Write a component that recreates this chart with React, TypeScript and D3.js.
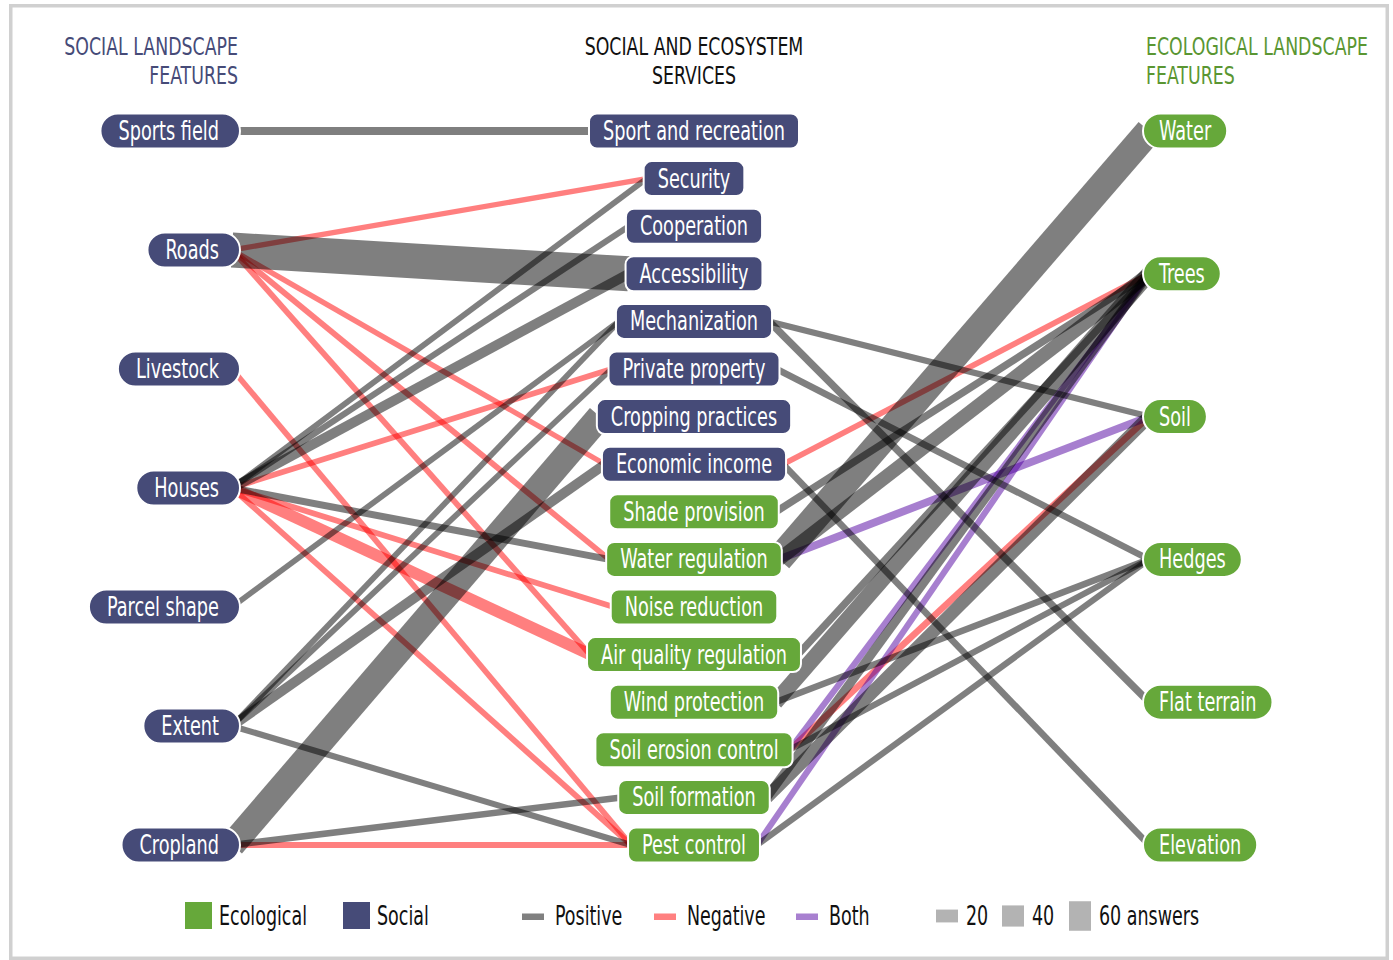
import { useEffect, useRef } from "react";
import * as d3 from "d3";

const socialFeatures = ["Sports field", "Roads", "Livestock", "Houses", "Parcel shape", "Extent", "Cropland"];

const services = [
  "Sport and recreation", "Security", "Cooperation", "Accessibility", "Mechanization",
  "Private property", "Cropping practices", "Economic income", "Shade provision",
  "Water regulation", "Noise reduction", "Air quality regulation", "Wind protection",
  "Soil erosion control", "Soil formation", "Pest control",
];
const socialServices = services.slice(0, 8);

const ecoFeatures = ["Water", "Trees", "Soil", "Hedges", "Flat terrain", "Elevation"];

// [social feature, service, answers, effect]
const socialLinks: [string, string, number, string][] = [
  ["Sports field", "Sport and recreation", 8, "Positive"],
  ["Roads", "Security", 2, "Negative"],
  ["Roads", "Accessibility", 73, "Positive"],
  ["Roads", "Economic income", 2, "Negative"],
  ["Roads", "Water regulation", 3, "Negative"],
  ["Roads", "Air quality regulation", 3, "Negative"],
  ["Livestock", "Pest control", 3, "Negative"],
  ["Houses", "Security", 3, "Positive"],
  ["Houses", "Cooperation", 4, "Positive"],
  ["Houses", "Accessibility", 13, "Positive"],
  ["Houses", "Private property", 3, "Negative"],
  ["Houses", "Water regulation", 6, "Positive"],
  ["Houses", "Noise reduction", 3, "Negative"],
  ["Houses", "Air quality regulation", 17, "Negative"],
  ["Houses", "Pest control", 3, "Negative"],
  ["Parcel shape", "Mechanization", 3, "Positive"],
  ["Extent", "Mechanization", 3, "Positive"],
  ["Extent", "Private property", 3, "Positive"],
  ["Extent", "Economic income", 13, "Positive"],
  ["Extent", "Pest control", 4, "Positive"],
  ["Cropland", "Cropping practices", 52, "Positive"],
  ["Cropland", "Soil formation", 5, "Positive"],
  ["Cropland", "Pest control", 4, "Negative"],
];

// [service, ecological feature, answers, effect]
const ecoLinks: [string, string, number, string][] = [
  ["Mechanization", "Soil", 4, "Positive"],
  ["Mechanization", "Flat terrain", 7, "Positive"],
  ["Private property", "Hedges", 5, "Positive"],
  ["Economic income", "Trees", 3, "Negative"],
  ["Economic income", "Elevation", 5, "Positive"],
  ["Shade provision", "Trees", 7, "Positive"],
  ["Water regulation", "Water", 55, "Positive"],
  ["Water regulation", "Trees", 22, "Positive"],
  ["Water regulation", "Soil", 8, "Both"],
  ["Air quality regulation", "Trees", 7, "Positive"],
  ["Wind protection", "Trees", 27, "Positive"],
  ["Wind protection", "Hedges", 5, "Positive"],
  ["Soil erosion control", "Trees", 4, "Both"],
  ["Soil erosion control", "Soil", 5, "Negative"],
  ["Soil erosion control", "Hedges", 4, "Positive"],
  ["Soil formation", "Trees", 11, "Positive"],
  ["Soil formation", "Soil", 20, "Positive"],
  ["Pest control", "Trees", 4, "Both"],
  ["Pest control", "Hedges", 4, "Positive"],
];

const kindLegend = ["Ecological", "Social"];
const effectLegend = ["Positive", "Negative", "Both"];
const sizeLegend = [20, 40, 60];

const NAVY = "#464b78";
const GREEN = "#66a83a";
const FONT = "'DejaVu Sans Condensed', 'Liberation Sans Narrow', 'Liberation Sans', sans-serif";
const effectInk: Record<string, string> = { Positive: "#000000", Negative: "#ff0000", Both: "#5000a0" };
const effectSwatch: Record<string, string> = { Positive: "#808080", Negative: "#ff8080", Both: "#a880d0" };

export default function App() {
  const svgRef = useRef<SVGSVGElement>(null);

  useEffect(() => {
    if (!svgRef.current) return;
    const svg = d3.select(svgRef.current);
    svg.selectAll("*").remove();

    const xLeft = 240; // right edge of the social feature pills
    const xMid = 694; // centre of the service pills
    const xRight = 1143; // left edge of the ecological feature pills
    const pillH = 35;

    const yLeft = d3.scalePoint<string>().domain(socialFeatures).range([131, 845]);
    const yMid = d3.scalePoint<string>().domain(services).range([131, 845]);
    const yRight = d3.scalePoint<string>().domain(ecoFeatures).range([131, 845]);
    const lineW = d3.scaleLinear().domain([0, 60]).range([4.5, 29.5]);

    // frame
    svg.append("rect")
      .attr("x", 10.75).attr("y", 5.75)
      .attr("width", 1376.5).attr("height", 952.5)
      .attr("fill", "none").attr("stroke", "#d0d0d0").attr("stroke-width", 3.5);

    // condensed text: the font is squeezed horizontally to mimic a condensed face
    const addText = (g: any, label: string, x: number, y: number, size: number, squeeze: number, anchor: string, color: string) => {
      const t = g.append("text")
        .attr("transform", `translate(${x},${y}) scale(${squeeze},1)`)
        .attr("text-anchor", anchor)
        .attr("font-family", FONT)
        .attr("font-size", size)
        .attr("fill", color)
        .text(label);
      return t.node().getComputedTextLength() * squeeze;
    };

    // column titles, two lines each
    const TITLE = 24.5;
    const TSQ = 0.788;
    const titleLines = (lines: string[], x: number, anchor: string, color: string) => {
      lines.forEach((l, i) => addText(svg, l, x, 55 + i * 28.5, TITLE, TSQ, anchor, color));
    };
    titleLines(["SOCIAL LANDSCAPE", "FEATURES"], 238, "end", NAVY);
    titleLines(["SOCIAL AND ECOSYSTEM", "SERVICES"], xMid, "middle", "#111");
    titleLines(["ECOLOGICAL LANDSCAPE", "FEATURES"], 1146, "start", "#5a9632");

    const linkG = svg.append("g");
    const nodeG = svg.append("g");

    const LABEL = 26;
    const SQ = 0.757;

    // left pills
    socialFeatures.forEach((name) => {
      const cy = yLeft(name)!;
      const g = nodeG.append("g");
      const r = g.append("rect");
      const tw = addText(g, name, xLeft - 21, cy + 9, LABEL, SQ, "end", "#fff");
      const w = tw + 39;
      r.attr("x", xLeft - w).attr("y", cy - pillH / 2).attr("width", w).attr("height", pillH)
        .attr("rx", pillH / 2).attr("fill", NAVY).attr("stroke", "#fff").attr("stroke-width", 2);
    });

    // middle pills
    const midEdges: Record<string, [number, number]> = {};
    services.forEach((name) => {
      const cy = yMid(name)!;
      const g = nodeG.append("g");
      const r = g.append("rect");
      const tw = addText(g, name, xMid, cy + 9, LABEL, SQ, "middle", "#fff");
      const w = tw + 28;
      midEdges[name] = [xMid - w / 2, xMid + w / 2];
      r.attr("x", xMid - w / 2).attr("y", cy - pillH / 2).attr("width", w).attr("height", pillH)
        .attr("rx", 8).attr("fill", socialServices.includes(name) ? NAVY : GREEN)
        .attr("stroke", "#fff").attr("stroke-width", 2);
    });

    // right pills
    ecoFeatures.forEach((name) => {
      const cy = yRight(name)!;
      const g = nodeG.append("g");
      const r = g.append("rect");
      const tw = addText(g, name, xRight + 16, cy + 9, LABEL, SQ, "start", "#fff");
      const w = tw + 32;
      r.attr("x", xRight).attr("y", cy - pillH / 2).attr("width", w).attr("height", pillH)
        .attr("rx", pillH / 2).attr("fill", GREEN).attr("stroke", "#fff").attr("stroke-width", 2);
    });

    // links, negative first so grey and purple overlaps darken like the original
    const order = ["Negative", "Both", "Positive"];
    const allLinks = [
      ...socialLinks.map(([s, t, n, e]) => ({
        x1: xLeft - 8, y1: yLeft(s)!, x2: midEdges[t][0] + 3, y2: yMid(t)!, n, e,
      })),
      ...ecoLinks.map(([s, t, n, e]) => ({
        x1: midEdges[s][1] - 3, y1: yMid(s)!, x2: xRight + 6, y2: yRight(t)!, n, e,
      })),
    ].sort((a, b) => order.indexOf(a.e) - order.indexOf(b.e));

    linkG.selectAll("line")
      .data(allLinks)
      .enter()
      .append("line")
      .attr("x1", (d) => d.x1).attr("y1", (d) => d.y1)
      .attr("x2", (d) => d.x2).attr("y2", (d) => d.y2)
      .attr("stroke", (d) => effectInk[d.e])
      .attr("stroke-opacity", 0.5)
      .attr("stroke-width", (d) => lineW(d.n));

    // legend
    const lg = svg.append("g");
    const ly = 916;
    const LEG = 27;
    const LSQ = 0.72;
    const kindX = [185, 343];
    kindLegend.forEach((k, i) => {
      lg.append("rect").attr("x", kindX[i]).attr("y", ly - 14).attr("width", 27).attr("height", 27)
        .attr("fill", k === "Ecological" ? GREEN : NAVY);
      addText(lg, k, kindX[i] + 34, ly + 9, LEG, LSQ, "start", "#111");
    });
    const effX = [522, 654, 796];
    effectLegend.forEach((e, i) => {
      lg.append("rect").attr("x", effX[i]).attr("y", ly - 2.5).attr("width", 22).attr("height", 6.5)
        .attr("fill", effectSwatch[e]);
      addText(lg, e, effX[i] + 33, ly + 9, LEG, LSQ, "start", "#111");
    });
    const sizeX = [936, 1002, 1069];
    sizeLegend.forEach((n, i) => {
      const h = lineW(n);
      lg.append("rect").attr("x", sizeX[i]).attr("y", ly - h / 2).attr("width", 22).attr("height", h)
        .attr("fill", "#b3b3b3");
      addText(lg, i === sizeLegend.length - 1 ? `${n} answers` : `${n}`, sizeX[i] + 30, ly + 9, LEG, LSQ, "start", "#111");
    });
  }, []);

  return (
    <svg
      ref={svgRef}
      width={1393}
      height={960}
      viewBox="0 0 1393 960"
      style={{ position: "absolute", left: 0, top: 0, background: "#fff" }}
    />
  );
}
